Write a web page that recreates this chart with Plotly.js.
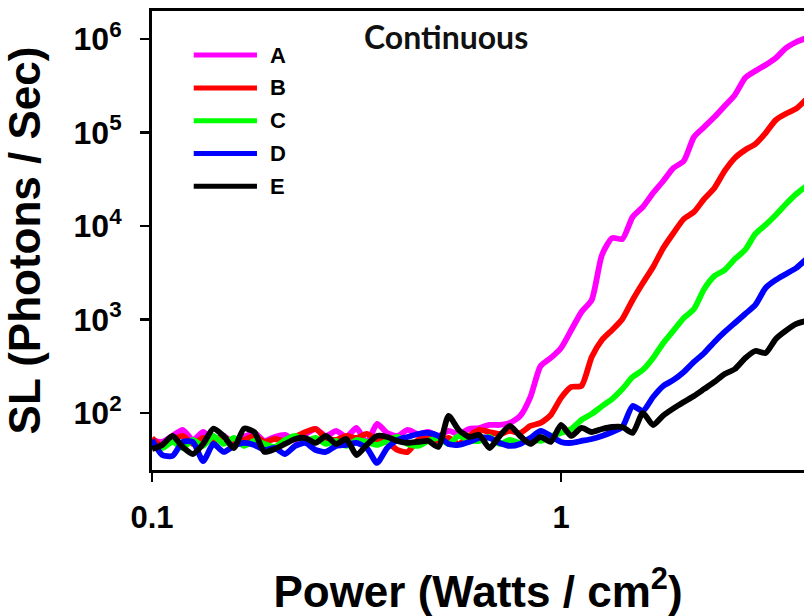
<!DOCTYPE html>
<html>
<head>
<meta charset="utf-8">
<script src="https://cdn.plot.ly/plotly-3.0.1.min.js"></script>
<style>
html,body{margin:0;padding:0;background:#ffffff;}
#chart{width:804px;height:616px;}
</style>
</head>
<body>
<div id="chart"></div>
<script>
// Power (Watts / cm^2) sample points, shared by all series
const power = [0.1, 0.10593, 0.1122, 0.11885, 0.12589, 0.13335, 0.14125, 0.14962, 0.15849, 0.16788,
  0.17783, 0.18836, 0.19953, 0.21135, 0.22387, 0.23714, 0.25119, 0.26607, 0.28184, 0.29854,
  0.31623, 0.33497, 0.35481, 0.37584, 0.39811, 0.4217, 0.44668, 0.47315, 0.50119, 0.53088,
  0.56234, 0.59566, 0.63096, 0.66834, 0.70795, 0.74989, 0.79433, 0.8414, 0.89125, 0.94406,
  1.0, 1.0593, 1.122, 1.1885, 1.2589, 1.3335, 1.4125, 1.4962, 1.5849, 1.6788,
  1.7783, 1.8836, 1.9953, 2.1135, 2.2387, 2.3714, 2.5119, 2.6607, 2.8184, 2.9854,
  3.1623, 3.3497, 3.5481, 3.7584, 3.9811];

// SL (Photons / Sec) for each series
const slA = [51.4, 49.0, 56.8, 65.8, 51.4, 62.6, 51.4, 56.8, 47.8, 55.4,
  61.1, 50.2, 55.4, 58.2, 51.4, 59.6, 67.4, 56.8, 64.2, 55.4,
  69.1, 47.8, 76.3, 61.1, 56.8, 65.8, 59.6, 62.6, 56.8, 64.2,
  59.6, 67.4, 69.1, 74.4, 74.4, 78.2, 92.9, 148, 318, 388,
  496, 772, 1203, 1617, 4896, 7443, 7260, 12480, 15970, 22540,
  30290, 41720, 49570, 89510, 114500, 146500, 192000, 251800, 382800, 454900,
  527100, 626500, 801000, 928800, 1025000];
const slB = [54.0, 44.4, 51.4, 56.8, 46.6, 54.0, 49.0, 55.4, 46.6, 51.4,
  56.8, 49.0, 52.7, 50.2, 55.4, 62.6, 67.4, 54.0, 51.4, 56.8,
  54.0, 59.6, 51.4, 49.0, 40.2, 38.3, 51.4, 56.8, 50.2, 54.0,
  46.6, 56.8, 65.8, 62.6, 59.6, 64.2, 61.1, 72.6, 78.2, 95.2,
  145, 190, 195, 397, 604, 772, 1013, 1617, 2457, 3644,
  5820, 8417, 11870, 14120, 19460, 25500, 38780, 53400, 64990, 75300,
  98650, 136100, 158800, 179600, 227900];
const slC = [44.4, 42.2, 49.0, 42.2, 51.4, 44.4, 56.8, 46.6, 54.0, 44.4,
  50.2, 46.6, 43.3, 51.4, 56.8, 50.2, 54.0, 46.6, 50.2, 44.4,
  51.4, 49.0, 45.5, 50.2, 55.4, 46.6, 44.4, 50.2, 54.0, 46.6,
  56.8, 51.4, 50.2, 55.4, 46.6, 51.4, 47.8, 52.7, 50.2, 56.8,
  61.1, 67.4, 84.2, 97.6, 118, 141.2, 180, 242.7, 288.4, 387.5,
  560, 760, 1038, 1295, 2120, 2919, 3384, 4436, 5538, 8212,
  10250, 13112, 17190, 22000, 26790];
const slD = [51.4, 35.5, 34.7, 49.0, 49.0, 30.5, 46.6, 38.3, 44.4, 47.8,
  45.5, 40.2, 42.2, 36.4, 44.4, 47.8, 40.2, 38.3, 44.4, 45.5,
  47.8, 42.2, 29.2, 42.2, 51.4, 55.4, 59.6, 61.1, 56.8, 46.6,
  45.5, 49.0, 54.0, 54.0, 47.8, 44.4, 46.6, 54.0, 64.2, 56.8,
  49.0, 47.8, 50.2, 52.7, 56.8, 62.6, 70.8, 118.8, 105.0, 148.3,
  194.5, 225.4, 274.5, 351.2, 438.3, 575, 735, 918, 1145, 1429,
  2172, 2646, 3066, 3554, 4436];
const slE = [41.2, 45.5, 56.8, 43.3, 36.4, 46.6, 68.0, 56.8, 42.2, 68.0,
  62.6, 38.3, 41.2, 46.6, 52.7, 54.0, 47.8, 56.8, 46.6, 52.7,
  35.5, 45.5, 56.8, 55.4, 50.2, 47.8, 49.0, 50.2, 43.3, 92.9,
  65.8, 55.4, 58.2, 42.2, 56.8, 72.6, 56.8, 46.6, 55.4, 49.0,
  74.4, 56.8, 69.1, 62.6, 67.4, 70.8, 70.8, 61.1, 100, 74.4,
  94, 112, 131.1, 152.0, 180.6, 214.6, 261.3, 295.5, 385, 460.4,
  438.3, 620, 760, 895.1, 963.9];

const seriesNames = ['A', 'B', 'C', 'D', 'E'];
const seriesValues = [slA, slB, slC, slD, slE];
const seriesColors = ['#ff00ff', '#ff0000', '#00ff00', '#0000ff', '#000000'];

const xTickVals = [0.1, 1];
const xTickText = ['0.1', '1'];
const yTickVals = [100, 1000, 10000, 100000, 1000000];
const yTickText = ['10<sup>2</sup>', '10<sup>3</sup>', '10<sup>4</sup>', '10<sup>5</sup>', '10<sup>6</sup>'];

const chartLabel = 'Continuous';
const xTitle = 'Power (Watts / cm<sup>2</sup>)';
const yTitle = 'SL (Photons / Sec)';

const FONT = 'Liberation Sans, Arial, Helvetica, sans-serif';

const traces = seriesNames.map((name, i) => ({
  type: 'scatter',
  mode: 'lines',
  name: name,
  x: power,
  y: seriesValues[i],
  line: {color: seriesColors[i], width: 5.8, shape: 'spline', smoothing: 0.6},
  hoverinfo: 'x+y+name'
}));

// manual legend (line swatch + label) in the upper left of the plot area
const legX0 = 0.064, legX1 = 0.161, legTextX = 0.178, legTop = 0.904, legStep = 0.0715;
const shapes = [];
const annotations = [];
seriesNames.forEach((name, i) => {
  const yy = legTop - i * legStep;
  shapes.push({type: 'line', xref: 'paper', yref: 'paper', x0: legX0, x1: legX1, y0: yy, y1: yy,
    line: {color: seriesColors[i], width: 5}});
  annotations.push({xref: 'paper', yref: 'paper', x: legTextX, y: yy, xanchor: 'left', yanchor: 'middle',
    text: name, showarrow: false, font: {family: FONT, size: 22, color: '#000', weight: 'bold'}});
});
annotations.push({xref: 'paper', yref: 'paper', x: 0.451, y: 0.944, xanchor: 'center', yanchor: 'middle',
  text: chartLabel, showarrow: false, font: {family: 'Lato, Open Sans, sans-serif', size: 32, color: '#111', weight: 'bold'}});

const layout = {
  width: 804,
  height: 616,
  margin: {l: 152, r: 0, t: 11, b: 146},
  paper_bgcolor: '#ffffff',
  plot_bgcolor: '#ffffff',
  showlegend: false,
  font: {family: FONT, size: 20, color: '#000'},
  xaxis: {
    type: 'log',
    range: [-1, 0.594],
    tickmode: 'array',
    tickvals: xTickVals,
    ticktext: xTickText,
    ticks: 'outside',
    ticklen: 9,
    tickwidth: 2.5,
    tickcolor: '#000',
    showline: true,
    linecolor: '#000',
    linewidth: 3,
    mirror: true,
    showgrid: false,
    zeroline: false,
    ticklabelstandoff: 9,
    tickfont: {family: FONT, size: 31, color: '#000', weight: 'bold'},
    title: {text: xTitle, standoff: 43, font: {family: FONT, size: 44, color: '#000', weight: 'bold'}}
  },
  yaxis: {
    type: 'log',
    range: [1.39, 6.2995],
    tickmode: 'array',
    tickvals: yTickVals,
    ticktext: yTickText,
    ticks: 'outside',
    ticklen: 9,
    tickwidth: 2.5,
    tickcolor: '#000',
    showline: true,
    linecolor: '#000',
    linewidth: 3,
    mirror: false,
    showgrid: false,
    zeroline: false,
    ticklabelstandoff: 12,
    tickfont: {family: FONT, size: 32, color: '#000', weight: 'bold'},
    title: {text: yTitle, standoff: 20, font: {family: FONT, size: 44, color: '#000', weight: 'bold'}}
  },
  shapes: shapes,
  annotations: annotations
};

Plotly.newPlot('chart', traces, layout, {displayModeBar: false, staticPlot: true});
</script>
</body>
</html>
